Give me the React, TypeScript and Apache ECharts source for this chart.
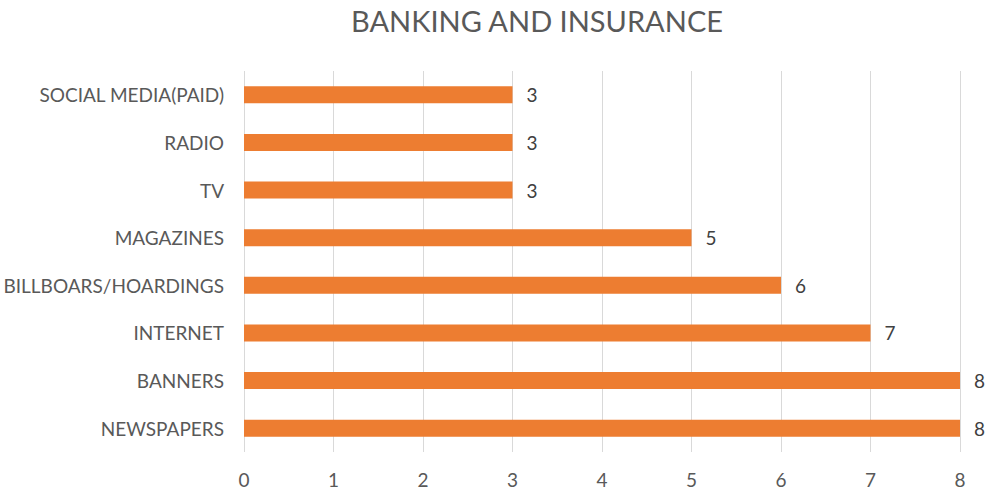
import React, { useEffect, useRef } from "react";
import * as echarts from "echarts";

const categories = [
  "NEWSPAPERS",
  "BANNERS",
  "INTERNET",
  "BILLBOARS/HOARDINGS",
  "MAGAZINES",
  "TV",
  "RADIO",
  "SOCIAL MEDIA(PAID)",
];
const values = [8, 8, 7, 6, 5, 3, 3, 3];
const titleText = "BANKING AND INSURANCE";

const FONT = "Lato, 'Open Sans', sans-serif";

export default function App() {
  const ref = useRef<HTMLDivElement>(null);
  useEffect(() => {
    if (!ref.current) return;
    const chart = echarts.init(ref.current, null, { renderer: "svg" });
    chart.setOption({
      animation: false,
      backgroundColor: "#ffffff",
      graphic: [
        {
          type: "text",
          x: 537,
          y: 20,
          style: {
            text: titleText,
            textAlign: "center",
            textVerticalAlign: "middle",
            fontFamily: FONT,
            fontSize: 29,
            fill: "#595959",
          },
        },
      ],
      grid: { left: 244, right: 30, top: 71, bottom: 42, containLabel: false },
      xAxis: {
        type: "value",
        min: 0,
        max: 8,
        interval: 1,
        axisLine: { show: false },
        axisTick: { show: false },
        splitLine: { show: true, lineStyle: { color: "#d9d9d9", width: 1 } },
        axisLabel: {
          margin: 18,
          fontFamily: FONT,
          fontSize: 19,
          color: "#595959",
        },
      },
      yAxis: {
        type: "category",
        data: categories,
        axisLine: { show: false },
        axisTick: { show: false },
        axisLabel: {
          margin: 20,
          fontFamily: FONT,
          fontSize: 19,
          color: "#595959",
        },
      },
      series: [
        {
          type: "bar",
          data: values,
          barWidth: 17,
          itemStyle: { color: "#ED7D31" },
          label: {
            show: true,
            position: "right",
            distance: 14,
            fontFamily: FONT,
            fontSize: 19,
            color: "#404040",
          },
        },
      ],
    });
    return () => chart.dispose();
  }, []);
  return (
    <div
      ref={ref}
      style={{ position: "absolute", left: 0, top: 0, width: 990, height: 494 }}
    />
  );
}
